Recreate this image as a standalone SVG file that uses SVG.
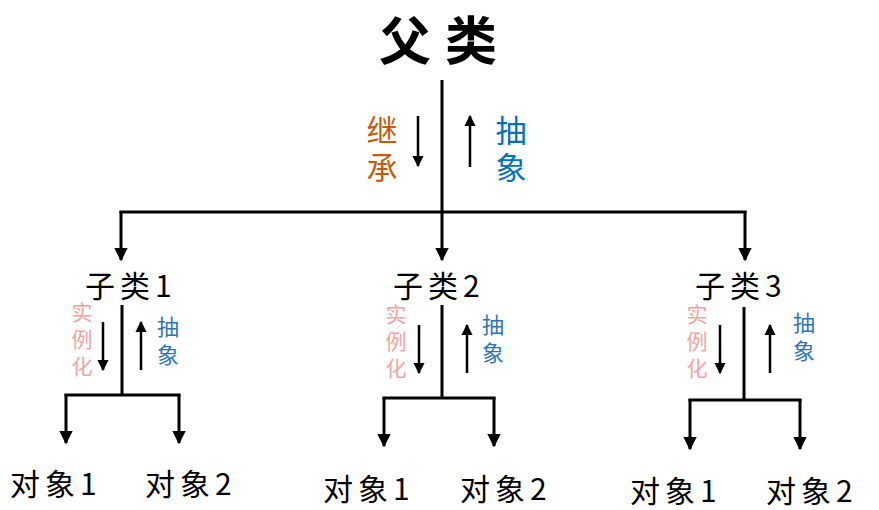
<svg xmlns="http://www.w3.org/2000/svg" width="879" height="510" viewBox="0 0 879 510">
<style>
.t{font-family:"Noto Sans CJK SC","Liberation Sans",sans-serif;fill:#000}
.v{writing-mode:vertical-rl;letter-spacing:6px}
.ln{stroke:#000;stroke-width:3;fill:none}
.sm{stroke:#000;stroke-width:2.5;fill:none}
.or{fill:#c55a11}
.bl{fill:#0070c0}
.pk{fill:#f4a3a3}
.bs{fill:#2e75b6}
</style>
<defs>
<marker id="ah" viewBox="0 0 10 10" refX="9" refY="5" markerWidth="4.5" markerHeight="4.5" orient="auto" markerUnits="strokeWidth"><path d="M0,0 L10,5 L0,10 Z" fill="#000"/></marker>
</defs>
<rect width="879" height="510" fill="#fff"/>
<g id="connectors">
<line class="ln" x1="442" y1="80" x2="442" y2="260" marker-end="url(#ah)"/>
<line class="ln" x1="119.5" y1="212" x2="746.5" y2="212"/>
<line class="ln" x1="121" y1="211" x2="121" y2="260" marker-end="url(#ah)"/>
<line class="ln" x1="745" y1="211" x2="745" y2="260" marker-end="url(#ah)"/>
<line class="sm" x1="418" y1="116" x2="418" y2="166" marker-end="url(#ah)"/>
<line class="sm" x1="470" y1="167" x2="470" y2="116" marker-end="url(#ah)"/>
<line class="ln" x1="122" y1="305" x2="122" y2="395"/>
<line class="ln" x1="64.5" y1="395" x2="180.5" y2="395"/>
<line class="ln" x1="66" y1="394" x2="66" y2="443" marker-end="url(#ah)"/>
<line class="ln" x1="179" y1="394" x2="179" y2="443" marker-end="url(#ah)"/>
<line class="sm" x1="103" y1="322" x2="103" y2="370" marker-end="url(#ah)"/>
<line class="sm" x1="141" y1="370" x2="141" y2="322" marker-end="url(#ah)"/>
<line class="ln" x1="442" y1="305" x2="442" y2="398"/>
<line class="ln" x1="382.5" y1="398" x2="495.5" y2="398"/>
<line class="ln" x1="384" y1="397" x2="384" y2="446" marker-end="url(#ah)"/>
<line class="ln" x1="494" y1="397" x2="494" y2="446" marker-end="url(#ah)"/>
<line class="sm" x1="419" y1="325" x2="419" y2="373" marker-end="url(#ah)"/>
<line class="sm" x1="467" y1="373" x2="467" y2="325" marker-end="url(#ah)"/>
<line class="ln" x1="744" y1="307" x2="744" y2="400"/>
<line class="ln" x1="688.5" y1="400" x2="801.5" y2="400"/>
<line class="ln" x1="690" y1="399" x2="690" y2="449" marker-end="url(#ah)"/>
<line class="ln" x1="800" y1="399" x2="800" y2="449" marker-end="url(#ah)"/>
<line class="sm" x1="720" y1="325" x2="720" y2="373" marker-end="url(#ah)"/>
<line class="sm" x1="770" y1="373" x2="770" y2="325" marker-end="url(#ah)"/>
</g>
<g id="parent"><text class="t" x="445" y="60" font-size="52" font-weight="bold" text-anchor="middle" letter-spacing="14">父类</text></g>
<g id="inherit-label"><text class="t v or" font-size="31" x="382" y="115">继承</text></g>
<g id="abstract-label"><text class="t v bl" font-size="31" x="511" y="115">抽象</text></g>
<g id="sub1"><text class="t" x="85" y="297" font-size="30" letter-spacing="5">子类1</text>
<text class="t v pk" font-size="21" x="82" y="302">实例化</text>
<text class="t v bs" font-size="22" x="168" y="316">抽象</text></g>
<g id="obj1-1"><text class="t" x="10" y="495" font-size="30" letter-spacing="5">对象1</text></g>
<g id="obj1-2"><text class="t" x="145" y="495" font-size="30" letter-spacing="5">对象2</text></g>
<g id="sub2"><text class="t" x="393" y="297" font-size="30" letter-spacing="5">子类2</text>
<text class="t v pk" font-size="21" x="396" y="304">实例化</text>
<text class="t v bs" font-size="22" x="493" y="314">抽象</text></g>
<g id="obj2-1"><text class="t" x="323" y="500" font-size="30" letter-spacing="5">对象1</text></g>
<g id="obj2-2"><text class="t" x="460" y="500" font-size="30" letter-spacing="5">对象2</text></g>
<g id="sub3"><text class="t" x="695" y="297" font-size="30" letter-spacing="5">子类3</text>
<text class="t v pk" font-size="21" x="697" y="304">实例化</text>
<text class="t v bs" font-size="22" x="804" y="312">抽象</text></g>
<g id="obj3-1"><text class="t" x="630" y="502" font-size="30" letter-spacing="5">对象1</text></g>
<g id="obj3-2"><text class="t" x="766" y="502" font-size="30" letter-spacing="5">对象2</text></g>
</svg>
